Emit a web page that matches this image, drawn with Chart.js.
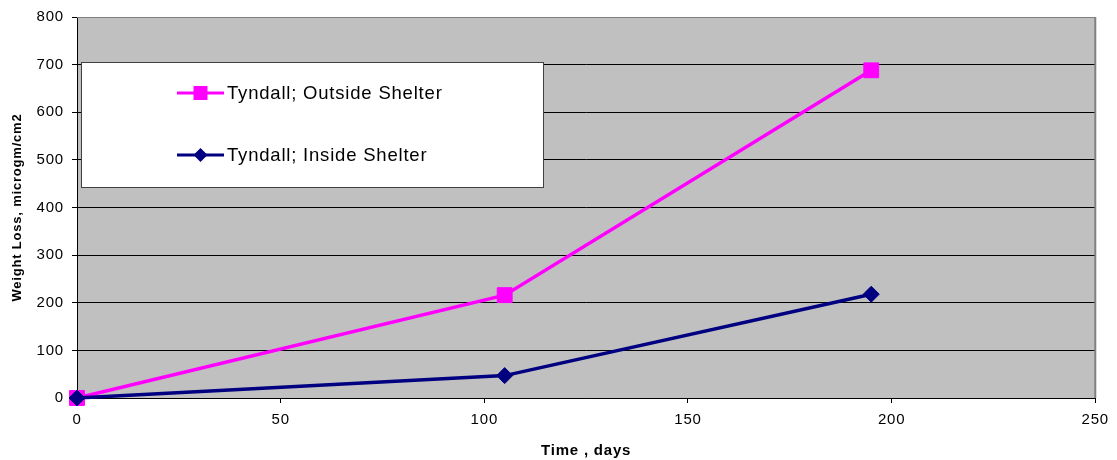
<!DOCTYPE html>
<html>
<head>
<meta charset="utf-8">
<script src="https://cdn.jsdelivr.net/npm/chart.js@4.4.1/dist/chart.umd.min.js"></script>
<style>
  html, body { margin: 0; padding: 0; background: #ffffff; }
  #wrap { width: 1117px; height: 460px; }
</style>
</head>
<body>
<div id="wrap"><canvas id="chart" width="1117" height="460"></canvas></div>
<script>
// Exposure time (days) and measured weight loss (microgm/cm2)
const days = [0, 105, 195];
const outsideShelter = [0, 216, 688];
const insideShelter = [0, 47, 218];

const seriesNames = ['Tyndall; Outside Shelter', 'Tyndall; Inside Shelter'];
const xTitle = 'Time , days';
const yTitle = 'Weight Loss, microgm/cm2';

const FONT = "'Liberation Sans', Arial, sans-serif";
const SPACING = '0.8px';

function toPoints(xs, ys) {
  return xs.map((x, i) => ({ x: x, y: ys[i] }));
}

// Text spacing and grey plot background
const plotBackground = {
  id: 'plotBackground',
  beforeLayout(chart) { chart.ctx.letterSpacing = SPACING; },
  beforeDraw(chart) {
    const { ctx, chartArea: a } = chart;
    ctx.letterSpacing = SPACING;
    ctx.save();
    ctx.fillStyle = '#c0c0c0';
    ctx.fillRect(a.left, a.top, a.right - a.left, a.bottom - a.top);
    ctx.restore();
  },
  beforeDatasetsDraw(chart) {
    const { ctx, chartArea: a } = chart;
    ctx.save();
    ctx.strokeStyle = '#808080';
    ctx.lineWidth = 2;
    ctx.beginPath();
    ctx.moveTo(a.right, a.top);
    ctx.lineTo(a.right, a.bottom);
    ctx.stroke();
    ctx.lineWidth = 1;
    ctx.beginPath();
    ctx.moveTo(a.left, a.top + 0.5);
    ctx.lineTo(a.right, a.top + 0.5);
    ctx.stroke();
    ctx.restore();
  }
};

// Boxed legend with line + marker samples
const boxedLegend = {
  id: 'boxedLegend',
  afterDatasetsDraw(chart) {
    const { ctx, chartArea: a } = chart;
    const bx = a.left + 4, by = a.top + 45, bw = 462, bh = 125;
    ctx.save();
    ctx.letterSpacing = SPACING;
    ctx.fillStyle = '#ffffff';
    ctx.fillRect(bx, by, bw, bh);
    ctx.strokeStyle = '#404040';
    ctx.lineWidth = 1;
    ctx.strokeRect(bx + 0.5, by + 0.5, bw, bh);
    const rows = [by + 31, by + 93];
    chart.data.datasets.forEach((ds, i) => {
      const y = rows[i];
      const x0 = bx + 96, x1 = bx + 143;
      ctx.strokeStyle = ds.borderColor;
      ctx.lineWidth = 3;
      ctx.beginPath();
      ctx.moveTo(x0, y);
      ctx.lineTo(x1, y);
      ctx.stroke();
      ctx.fillStyle = ds.pointBackgroundColor;
      const cx = (x0 + x1) / 2;
      ctx.beginPath();
      if (ds.pointStyle === 'rect') {
        ctx.rect(cx - 7, y - 7, 14, 14);
      } else {
        ctx.moveTo(cx - 7, y);
        ctx.lineTo(cx, y - 7);
        ctx.lineTo(cx + 7, y);
        ctx.lineTo(cx, y + 7);
        ctx.closePath();
      }
      ctx.fill();
      ctx.fillStyle = '#000000';
      ctx.font = '18.5px ' + FONT;
      ctx.textAlign = 'left';
      ctx.textBaseline = 'middle';
      ctx.fillText(ds.label, x1 + 3, y + 1);
    });
    ctx.restore();
  }
};

new Chart(document.getElementById('chart'), {
  type: 'line',
  data: {
    datasets: [
      {
        label: seriesNames[0],
        data: toPoints(days, outsideShelter),
        borderColor: '#ff00ff',
        backgroundColor: '#ff00ff',
        pointBackgroundColor: '#ff00ff',
        pointBorderColor: '#ff00ff',
        pointStyle: 'rect',
        pointRadius: 10.5,
        pointBorderWidth: 1,
        borderWidth: 3.5,
        tension: 0,
        clip: false,
        order: 1
      },
      {
        label: seriesNames[1],
        data: toPoints(days, insideShelter),
        borderColor: '#000080',
        backgroundColor: '#000080',
        pointBackgroundColor: '#000080',
        pointBorderColor: '#000080',
        pointStyle: 'rectRot',
        pointRadius: 8,
        pointBorderWidth: 1,
        borderWidth: 3.5,
        tension: 0,
        clip: false,
        order: 0
      }
    ]
  },
  options: {
    responsive: false,
    animation: false,
    devicePixelRatio: 1,
    layout: { padding: { left: 0, right: 15, top: 16, bottom: 0 } },
    plugins: {
      legend: { display: false },
      tooltip: { enabled: false }
    },
    scales: {
      x: {
        type: 'linear',
        min: 0,
        max: 250,
        ticks: { stepSize: 50, color: '#000', padding: 8, font: { family: FONT, size: 15 } },
        grid: { drawOnChartArea: false, drawTicks: true, tickLength: 5, tickColor: '#000' },
        border: { color: '#000', width: 1 },
        title: { display: true, text: xTitle, color: '#000', padding: { top: 4, bottom: 0 }, font: { family: FONT, size: 15, weight: 'bold' } },
        afterFit(scale) { scale.height = 62; }
      },
      y: {
        min: 0,
        max: 800,
        ticks: { stepSize: 100, color: '#000', padding: 8, font: { family: FONT, size: 15 } },
        grid: { color: '#000', lineWidth: 1, drawTicks: true, tickLength: 5, tickColor: '#000' },
        border: { color: '#000', width: 1 },
        title: { display: true, text: yTitle, color: '#000', padding: { top: 10, bottom: 0 }, font: { family: FONT, size: 13, weight: 'bold' } },
        afterFit(scale) { scale.width = 77; }
      }
    }
  },
  plugins: [plotBackground, boxedLegend]
});
</script>
</body>
</html>
